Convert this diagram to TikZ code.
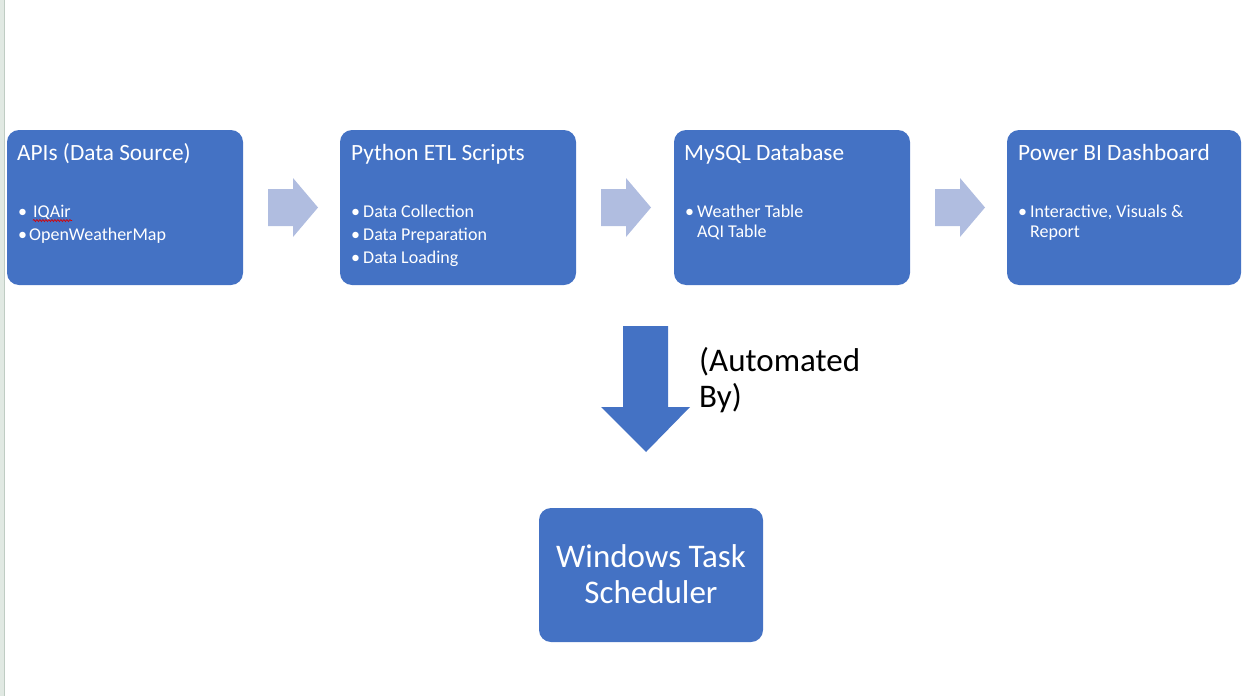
\documentclass[tikz,border=0pt]{standalone}
\usepackage{fontspec}
\setmainfont{Carlito}
\usetikzlibrary{decorations.pathmorphing}
\definecolor{boxblue}{HTML}{4472C4}
\definecolor{lightarrow}{HTML}{B0BDE0}
\definecolor{stripfill}{HTML}{E1E9E3}
\definecolor{stripline}{HTML}{BFCCC3}
\tikzset{
  stagebox/.style={fill=boxblue, rounded corners=12pt},
  titletext/.style={anchor=base west, inner sep=0pt, text=white, font=\fontsize{23.3}{27}\selectfont},
  itemtext/.style={anchor=base west, inner sep=0pt, text=white, font=\fontsize{18}{20}\selectfont},
  flowarrow/.style={fill=lightarrow},
  autoarrow/.style={fill=boxblue},
}
\begin{document}
\begin{tikzpicture}[x=1pt, y=-1pt]
\useasboundingbox (0,0) rectangle (1242,696);
% left strip
\fill[stripfill] (0,0) rectangle (4,696);
\draw[stripline, line width=1pt] (4.5,0) -- (4.5,696);

% boxes
\path[stagebox] (7,130) rectangle (243,285);
\path[stagebox] (340,130) rectangle (576,285);
\path[stagebox] (674,130) rectangle (910,285);
\path[stagebox] (1007,130) rectangle (1241,285);
\path[stagebox] (539,508) rectangle (763,642);

% box 1
\node[titletext] (t1) at (17,160) {APIs (Data Source)};
\node[itemtext] (b1a) at (18,217) {•};
\node[itemtext] (i1a) at (33,217) {IQAir};
\node[itemtext] (b1b) at (18,240) {•};
\node[itemtext] (i1b) at (29,240) {OpenWeatherMap};
\draw[red!85!black, line width=0.7pt, decorate, decoration={snake, amplitude=1pt, segment length=3pt}] (33,220.5) -- (72,220.5);

% box 2
\node[titletext] (t2) at (351,160) {Python ETL Scripts};
\node[itemtext] (b2a) at (351,217) {•};
\node[itemtext] (i2a) at (363,217) {Data Collection};
\node[itemtext] (b2b) at (351,240) {•};
\node[itemtext] (i2b) at (363,240) {Data Preparation};
\node[itemtext] (b2c) at (351,263) {•};
\node[itemtext] (i2c) at (363,263) {Data Loading};

% box 3
\node[titletext] (t3) at (684,160) {MySQL Database};
\node[itemtext] (b3a) at (685,217) {•};
\node[itemtext] (i3a) at (697,217) {Weather Table};
\node[itemtext] (i3b) at (697,237) {AQI Table};

% box 4
\node[titletext] (t4) at (1018,160) {Power BI Dashboard};
\node[itemtext] (b4a) at (1018,217) {•};
\node[itemtext] (i4a) at (1030,217) {Interactive, Visuals \&};
\node[itemtext] (i4b) at (1030,237) {Report};

% light flow arrows
\foreach \dx in {0,333,667}{
  \fill[flowarrow] (268+\dx,189) -- (293+\dx,189) -- (293+\dx,178) -- (318+\dx,207.5)
    -- (293+\dx,237) -- (293+\dx,226) -- (268+\dx,226) -- cycle;
}

% automation arrow
\fill[autoarrow] (623,326) -- (668,326) -- (668,407) -- (690,407) -- (646,452)
  -- (601,407) -- (623,407) -- cycle;
\node[anchor=base west, inner sep=0pt, font=\fontsize{33}{36}\selectfont] (auto1) at (699,371) {(Automated};
\node[anchor=base west, inner sep=0pt, font=\fontsize{33}{36}\selectfont] (auto2) at (699,407) {By)};

% scheduler
\node[anchor=base, inner sep=0pt, text=white, font=\fontsize{33}{36}\selectfont] (ws1) at (651,567) {Windows Task};
\node[anchor=base, inner sep=0pt, text=white, font=\fontsize{33}{36}\selectfont] (ws2) at (651,603) {Scheduler};
\end{tikzpicture}
\end{document}
